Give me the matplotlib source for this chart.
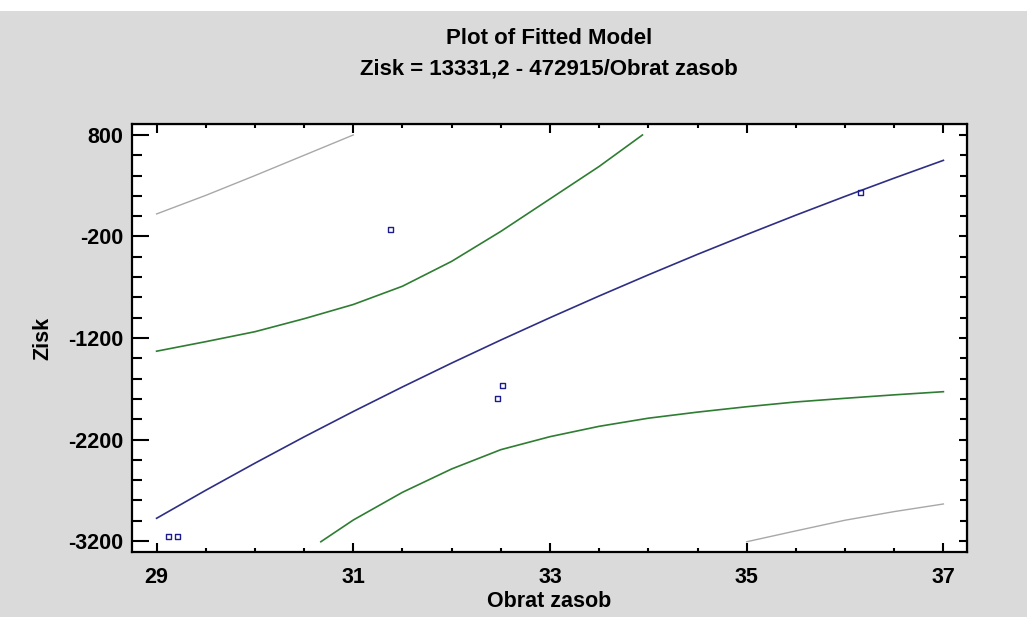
import matplotlib
matplotlib.use("Agg")
import matplotlib.pyplot as plt
from matplotlib.patches import Rectangle

plt.rcParams['font.family'] = ['Liberation Sans', 'DejaVu Sans']
plt.rcParams['axes.unicode_minus'] = False

# fitted model line
fit_x = [29, 29.5, 30, 30.5, 31, 31.5, 32, 32.5, 33, 33.5, 34, 34.5, 35, 35.5, 36, 36.5, 37]
fit_y = [-2976, -2700, -2433, -2174, -1924, -1682, -1447, -1220, -1000, -786, -578, -376, -181, 10, 195, 375, 550]

# confidence limits (green)
conf_up_x = [29, 29.5, 30, 30.5, 31, 31.5, 32, 32.5, 33, 33.5, 33.94]
conf_up_y = [-1330, -1236, -1138, -1010, -870, -690, -445, -150, 170, 490, 800]
conf_lo_x = [30.67, 31, 31.5, 32, 32.5, 33, 33.5, 34, 34.5, 35, 35.5, 36, 36.5, 37]
conf_lo_y = [-3207, -2993, -2720, -2490, -2300, -2172, -2070, -1990, -1930, -1877, -1830, -1794, -1760, -1729]

# prediction limits (gray)
pred_up_x = [29, 29.5, 30, 30.5, 31]
pred_up_y = [22, 205, 400, 600, 800]
pred_lo_x = [35, 35.5, 36, 36.5, 37]
pred_lo_y = [-3207, -3100, -2995, -2910, -2835]

# observations
obs_x = [29.125, 29.21, 31.38, 32.465, 32.52, 36.16]
obs_y = [-3154, -3154, -133, -1794, -1670, 235]

bg = '#dadada'
fig = plt.figure(figsize=(10.27, 6.17), dpi=100, facecolor=bg)
fig.patches.append(Rectangle((0, 1 - 11 / 617), 1, 11 / 617, transform=fig.transFigure,
                             facecolor='white', edgecolor='none', zorder=-1))

ax = fig.add_axes([132 / 1027, 1 - 552 / 617, 835 / 1027, 428 / 617])
ax.set_facecolor('white')

ax.plot(pred_up_x, pred_up_y, color='#a8a8a8', lw=1.0)
ax.plot(pred_lo_x, pred_lo_y, color='#a8a8a8', lw=1.0)
ax.plot(conf_up_x, conf_up_y, color='#2e7d32', lw=1.2)
ax.plot(conf_lo_x, conf_lo_y, color='#2e7d32', lw=1.2)
ax.plot(fit_x, fit_y, color='#2e2e85', lw=1.2)
ax.scatter(obs_x, obs_y, marker='s', s=12, facecolors='none', edgecolors='#1c1c8a', linewidths=1.0, zorder=5)

x_minor = [29.5, 30, 30.5, 31.5, 32, 32.5, 33.5, 34, 34.5, 35.5, 36, 36.5]
y_major = [800, -200, -1200, -2200, -3200]
y_minor = [y for y in range(-3000, 900, 200) if (y + 3200) % 1000 != 0]

ax.set_xlim(28.75, 37.24)
ax.set_ylim(-3308, 908)
ax.set_xticks([29, 31, 33, 35, 37])
ax.set_xticks(x_minor, minor=True)
ax.set_yticks(y_major)
ax.set_yticks(y_minor, minor=True)

for s in ax.spines.values():
    s.set_linewidth(1.6)

ax.tick_params(axis='y', which='major', direction='in', length=12, width=1.5, pad=6.5,
               labelsize=15.5)
ax.tick_params(axis='y', which='minor', direction='in', length=7, width=1.5)
ax.tick_params(axis='x', which='major', direction='in', length=6.5, width=1.5, pad=11,
               labelsize=15.5)
ax.tick_params(axis='x', which='minor', direction='in', length=3, width=1.5)
for lab in ax.get_xticklabels() + ax.get_yticklabels():
    lab.set_fontweight('bold')

# ticks on top and right
top = ax.secondary_xaxis('top')
top.set_xticks([29, 31, 33, 35, 37])
top.set_xticks(x_minor, minor=True)
top.tick_params(which='major', direction='in', length=6.5, width=1.5, labeltop=False)
top.tick_params(which='minor', direction='in', length=3, width=1.5)
right = ax.secondary_yaxis('right')
right.set_yticks(y_major)
right.set_yticks(y_minor, minor=True)
right.tick_params(which='major', direction='in', length=6, width=1.5, labelright=False)
right.tick_params(which='minor', direction='in', length=5, width=1.5)

ax.set_xlabel('Obrat zasob', fontsize=15.5, fontweight='bold', labelpad=2)
ax.set_ylabel('Zisk', fontsize=15.5, fontweight='bold', labelpad=10)

fig.text(549 / 1027, 1 - 38 / 617, 'Plot of Fitted Model', ha='center', va='center',
         fontsize=16, fontweight='bold')
fig.text(549 / 1027, 1 - 69 / 617, 'Zisk = 13331,2 - 472915/Obrat zasob', ha='center', va='center',
         fontsize=16, fontweight='bold')

plt.savefig('out.png', dpi=100, facecolor=bg)
